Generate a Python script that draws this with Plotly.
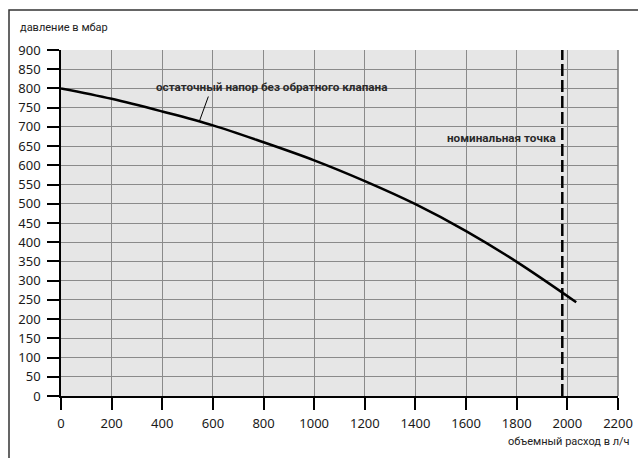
import numpy as np
import plotly.graph_objects as go

# Data
flow = [0, 200, 400, 600, 800, 1000, 1200, 1400, 1600, 1800, 2035]
pressure = [800, 773, 740, 704, 660, 613, 559, 499, 429, 349, 244]
nominal_flow = 1980
x_ticks = list(range(0, 2201, 200))
y_ticks = list(range(0, 901, 50))
curve_label = "остаточный напор без обратного клапана"
nominal_label = "номинальная точка"
y_title = "давление в мбар"
x_title = "объемный расход в л/ч"

W, H = 638, 458
L, R, T, B = 61, 20, 50, 62
pw, ph = W - L - R, H - T - B

def px2paper_x(px):
    return (px - L) / pw

def px2paper_y(py):
    return (H - B - py) / ph

fig = go.Figure()
fig.add_trace(go.Scatter(x=flow, y=pressure, mode="lines",
                         line=dict(color="black", width=2.5, shape="spline", smoothing=1.0),
                         hoverinfo="skip", showlegend=False))
fig.add_trace(go.Scatter(x=[nominal_flow, nominal_flow], y=[0, 900], mode="lines",
                         line=dict(color="black", width=2.5, dash="12px,4px"),
                         hoverinfo="skip", showlegend=False))

# leader line for the curve label
lead_x = 546
lead_y = float(np.interp(lead_x, flow, pressure))
fig.add_shape(type="line", x0=lead_x, y0=lead_y, x1=582, y1=779,
              line=dict(color="black", width=1))

fig.add_annotation(x=833, y=803, text=f"<b>{curve_label}</b>", showarrow=False,
                   font=dict(family="Roboto", size=11.7, color="#2a2a2a"),
                   xanchor="center", yanchor="middle")
fig.add_annotation(x=1962, y=670, text=f"<b>{nominal_label}</b>", showarrow=False,
                   font=dict(family="Roboto", size=11.7, color="#2a2a2a"),
                   xanchor="right", yanchor="middle")

fig.add_annotation(xref="paper", yref="paper", x=px2paper_x(18), y=px2paper_y(27.7),
                   text=y_title, showarrow=False, xanchor="left", yanchor="middle",
                   font=dict(family="Roboto", size=11, color="#222"))
fig.add_annotation(xref="paper", yref="paper", x=px2paper_x(632), y=px2paper_y(441),
                   text=x_title, showarrow=False, xanchor="right", yanchor="middle",
                   font=dict(family="Roboto", size=11, color="#222"))

# outer frame
fig.add_shape(type="rect", xref="paper", yref="paper", layer="below",
              x0=px2paper_x(9), y0=px2paper_y(480), x1=px2paper_x(660), y1=px2paper_y(10),
              line=dict(color="#333", width=1.5), fillcolor="rgba(0,0,0,0)")
# right border of plot area
fig.add_shape(type="line", xref="paper", yref="paper", x0=1, x1=1, y0=0, y1=1,
              line=dict(color="#777", width=1.5))

axis_font = dict(family="Noto Sans", size=13, color="#1a1a1a")
fig.update_xaxes(range=[0, 2200], tickvals=x_ticks, showgrid=True, gridcolor="#8a8a8a",
                 gridwidth=1.2, zeroline=False, showline=True, linecolor="black", linewidth=1.5,
                 ticks="outside", ticklen=12, tickwidth=1.5, tickcolor="black",
                 tickfont=axis_font, fixedrange=True, ticklabelstandoff=3)
fig.update_yaxes(range=[0, 900], tickvals=y_ticks, showgrid=True, gridcolor="#8a8a8a",
                 gridwidth=1.2, zeroline=False, showline=True, linecolor="black", linewidth=1.5,
                 ticks="outside", ticklen=12, tickwidth=1.5, tickcolor="black",
                 tickfont=axis_font, fixedrange=True, ticklabelstandoff=4)

fig.update_layout(width=W, height=H, margin=dict(l=L, r=R, t=T, b=B, autoexpand=False),
                  plot_bgcolor="#e6e6e6", paper_bgcolor="white", showlegend=False)

fig.write_html("out.html", config={"displayModeBar": False},
               post_script="document.body.style.margin='0';document.body.style.overflow='hidden';")
